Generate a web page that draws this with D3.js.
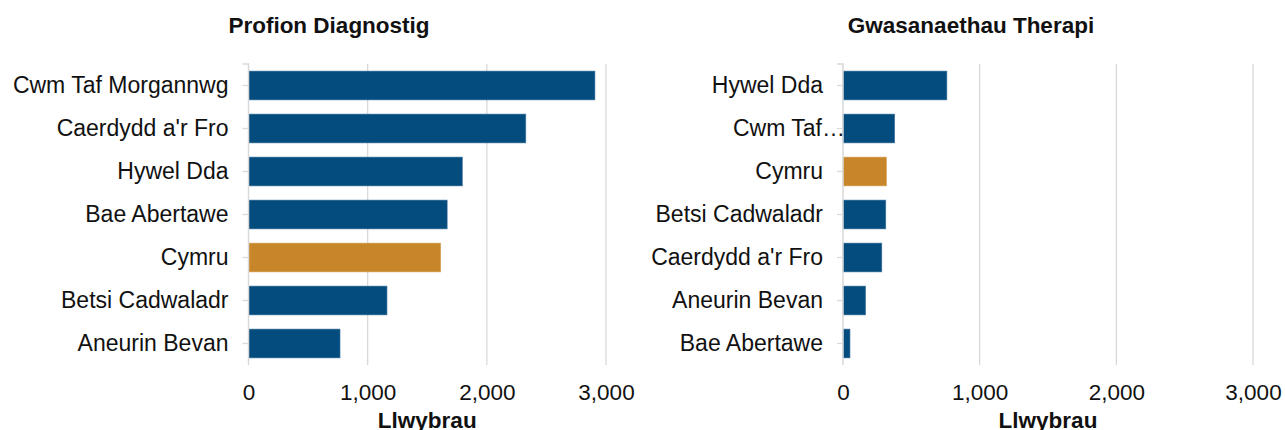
<!DOCTYPE html>
<html>
<head>
<meta charset="utf-8">
<script src="https://cdn.jsdelivr.net/npm/d3@7"></script>
<style>
  body { margin: 0; background: #fff; }
  svg { display: block; font-family: "Liberation Sans", Arial, sans-serif; }
  .title, .xtitle { font-weight: bold; }
</style>
</head>
<body>
<script>
// Profion Diagnostig
var diagCategories = ["Cwm Taf Morgannwg", "Caerdydd a'r Fro", "Hywel Dda", "Bae Abertawe", "Cymru", "Betsi Cadwaladr", "Aneurin Bevan"];
var diagValues = [2907, 2327, 1794, 1667, 1613, 1162, 768];

// Gwasanaethau Therapi
var therCategories = ["Hywel Dda", "Cwm Taf Morgannwg", "Cymru", "Betsi Cadwaladr", "Caerdydd a'r Fro", "Aneurin Bevan", "Bae Abertawe"];
var therValues = [760, 378, 318, 313, 284, 165, 51];

var xTicks = [0, 1000, 2000, 3000];
var highlight = "Cymru";
var axisTitle = "Llwybrau";

var width = 1285, height = 430;
var fontSize = 22.5, catFontSize = 23;
var navy = "#044b7e", orange = "#c8862a", grid = "#d9d9d9";

var svg = d3.select("body").append("svg")
    .attr("width", width)
    .attr("height", height);

var panels = [
  { title: "Profion Diagnostig", cats: diagCategories, vals: diagValues,
    titleX: 329, x0: 248.5, x1: 606, labelRoom: 240 },
  { title: "Gwasanaethau Therapi", cats: therCategories, vals: therValues,
    titleX: 971, x0: 843, x1: 1253, labelRoom: 180 }
];

var plotTop = 64, plotBottom = 365;

panels.forEach(function(p) {
  var data = p.cats.map(function(c, i) { return { cat: c, val: p.vals[i] }; });

  var x = d3.scaleLinear().domain([0, 3000]).range([p.x0, p.x1]);
  var y = d3.scaleBand().domain(p.cats).range([plotTop, plotBottom])
      .paddingInner(0.33).paddingOuter(0.165);

  var g = svg.append("g");

  g.append("text")
      .attr("class", "title")
      .attr("x", p.titleX)
      .attr("y", 33)
      .attr("text-anchor", "middle")
      .attr("font-size", fontSize)
      .attr("fill", "#111")
      .text(p.title);

  // gridlines
  g.selectAll(".grid")
      .data(xTicks.slice(1))
      .enter().append("line")
      .attr("x1", function(d) { return x(d); })
      .attr("x2", function(d) { return x(d); })
      .attr("y1", plotTop)
      .attr("y2", plotBottom)
      .attr("stroke", grid)
      .attr("stroke-width", 1.3);

  // bars
  g.selectAll(".bar")
      .data(data)
      .enter().append("rect")
      .attr("x", x(0))
      .attr("y", function(d) { return y(d.cat); })
      .attr("width", function(d) { return x(d.val) - x(0); })
      .attr("height", y.bandwidth())
      .attr("fill", function(d) { return d.cat === highlight ? orange : navy; })
      .attr("stroke", function(d) { return d.cat === highlight ? "#d9a55e" : "#3f74a0"; })
      .attr("stroke-width", 0.6);

  // y axis
  var yAxis = g.append("g")
      .attr("transform", "translate(" + x(0) + ",0)")
      .call(d3.axisLeft(y).tickSize(6).tickSizeOuter(0).tickPadding(14));
  yAxis.select(".domain")
      .attr("stroke", grid)
      .attr("stroke-width", 1.5)
      .attr("d", "M-6," + plotTop + "H0V" + plotBottom);
  yAxis.selectAll(".tick line").attr("stroke", grid).attr("stroke-width", 1.3);
  yAxis.selectAll(".tick text")
      .attr("font-size", catFontSize)
      .attr("font-family", "Liberation Sans, Arial, sans-serif")
      .attr("fill", "#111")
      .each(function(d) {
        var t = d3.select(this);
        if (this.getComputedTextLength() > p.labelRoom) {
          var words = d.split(" ");
          var s = words[0];
          for (var i = 1; i < words.length; i++) {
            t.text(s + " " + words[i] + "…");
            if (this.getComputedTextLength() > p.labelRoom - 10) break;
            s = s + " " + words[i];
          }
          t.text(s + "…").attr("x", 2);
        }
      });

  // x axis labels
  var xAxis = g.append("g")
      .attr("transform", "translate(0,380)")
      .call(d3.axisBottom(x).tickValues(xTicks).tickSize(0).tickPadding(0)
        .tickFormat(d3.format(",")));
  xAxis.select(".domain").remove();
  xAxis.selectAll("text")
      .attr("font-size", fontSize)
      .attr("font-family", "Liberation Sans, Arial, sans-serif")
      .attr("fill", "#111")
      .attr("dy", "0.9em");

  g.append("text")
      .attr("class", "xtitle")
      .attr("x", (p.x0 + p.x1) / 2)
      .attr("y", 428)
      .attr("text-anchor", "middle")
      .attr("font-size", fontSize)
      .attr("fill", "#111")
      .text(axisTitle);
});
</script>
</body>
</html>
